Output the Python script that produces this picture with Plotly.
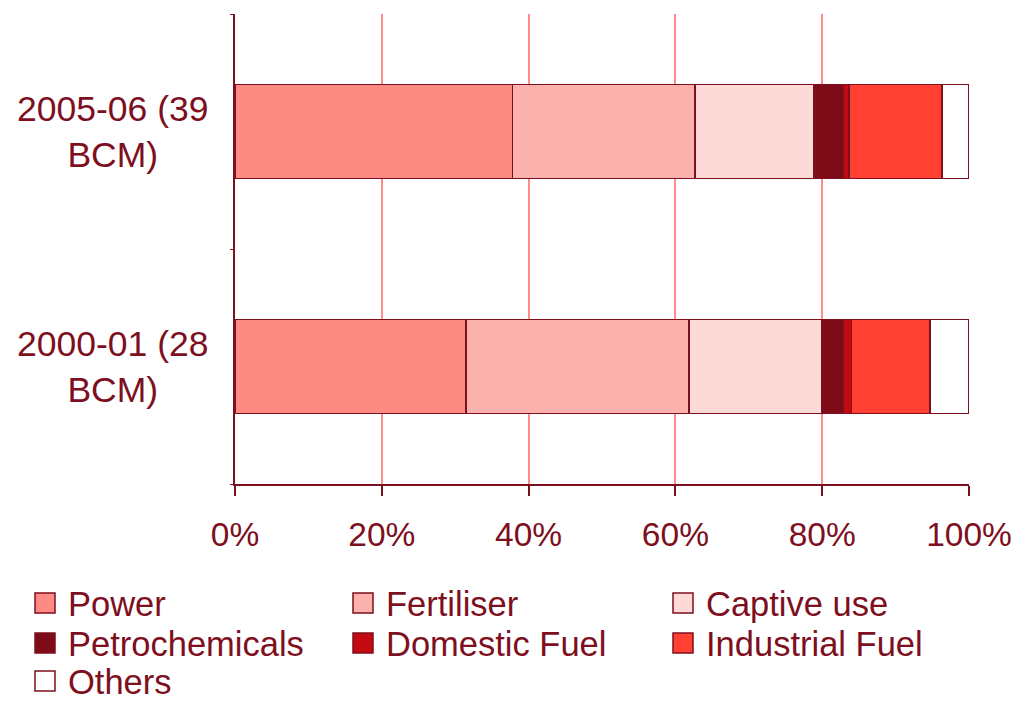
import plotly.graph_objects as go

# Gas consumption shares by sector (percent of total)
periods = ["2000-01 (28<br>BCM)", "2005-06 (39<br>BCM)"]
sectors = ["Power", "Fertiliser", "Captive use", "Petrochemicals",
           "Domestic Fuel", "Industrial Fuel", "Others"]
share_2000_01 = [31.5, 30.4, 18.0, 2.9, 1.2, 10.7, 5.3]
share_2005_06 = [37.8, 24.9, 16.2, 3.9, 0.9, 12.6, 3.7]
x_ticks = [0, 20, 40, 60, 80, 100]
x_tick_labels = ["0%", "20%", "40%", "60%", "80%", "100%"]

colors = ["#FD8B83", "#FBB2AD", "#FDD9D8", "#7D0B18",
          "#C30A10", "#FF4033", "#FFFFFF"]
dark = "#7D0F1E"
grid = "#FF8C88"
font_family = "Liberation Sans, Arial, sans-serif"

W, H = 1017, 702
M_L, M_R, M_T, M_B = 235, 48, 14, 218
plot_w = W - M_L - M_R
plot_h = H - M_T - M_B


def to_paper(px, py):
    """Convert page pixel coordinates into paper coordinates."""
    return (px - M_L) / plot_w, (H - M_B - py) / plot_h


fig = go.Figure()
for i, name in enumerate(sectors):
    fig.add_trace(go.Bar(
        y=periods,
        x=[share_2000_01[i], share_2005_06[i]],
        name=name,
        orientation="h",
        showlegend=False,
        marker=dict(color=colors[i], line=dict(color=dark, width=1.8)),
    ))

# Period labels, centred over two lines, to the left of the axis
annotations = [
    dict(x=0, xref="paper", y=p, yref="y", text=p, showarrow=False,
         xanchor="right", xshift=-25, align="center",
         font=dict(size=35.5, color=dark, family=font_family))
    for p in periods
]

# Legend below the chart: three columns of swatch + label
shapes = []
col_x = [35, 353, 673]
row_y = [603, 643, 681]
swatch = 20
for i, name in enumerate(sectors):
    cx = col_x[i % 3]
    cy = row_y[i // 3]
    x0, y0 = to_paper(cx, cy + swatch / 2)
    x1, y1 = to_paper(cx + swatch, cy - swatch / 2)
    shapes.append(dict(type="rect", xref="paper", yref="paper",
                       x0=x0, y0=y0, x1=x1, y1=y1,
                       fillcolor=colors[i], line=dict(color=dark, width=1.5)))
    tx, ty = to_paper(cx + swatch + 11, cy + 1)
    annotations.append(dict(x=tx, y=ty, xref="paper", yref="paper",
                            text=name, showarrow=False,
                            xanchor="left", yanchor="middle",
                            font=dict(size=34.5, color=dark, family=font_family)))

fig.update_layout(
    barmode="stack",
    bargap=0.6,
    width=W,
    height=H,
    paper_bgcolor="white",
    plot_bgcolor="white",
    margin=dict(l=M_L, r=M_R, t=M_T, b=M_B, autoexpand=False),
    font=dict(family=font_family, size=34, color=dark),
    annotations=annotations,
    shapes=shapes,
    showlegend=False,
    xaxis=dict(
        range=[0, 100],
        tickvals=x_ticks,
        ticktext=x_tick_labels,
        showgrid=True,
        gridcolor=grid,
        gridwidth=1.5,
        zeroline=False,
        showline=True,
        linecolor=dark,
        linewidth=2,
        ticks="outside",
        ticklen=10,
        tickcolor=dark,
        tickwidth=1.5,
        ticklabelstandoff=10,
        tickfont=dict(size=33.5, color=dark),
    ),
    yaxis=dict(
        categoryorder="array",
        categoryarray=periods,
        showticklabels=False,
        showgrid=False,
        zeroline=False,
        showline=True,
        linecolor=dark,
        linewidth=2,
        ticks="outside",
        tickson="boundaries",
        ticklen=3,
        tickcolor=dark,
    ),
)

fig.write_html("out.html")
